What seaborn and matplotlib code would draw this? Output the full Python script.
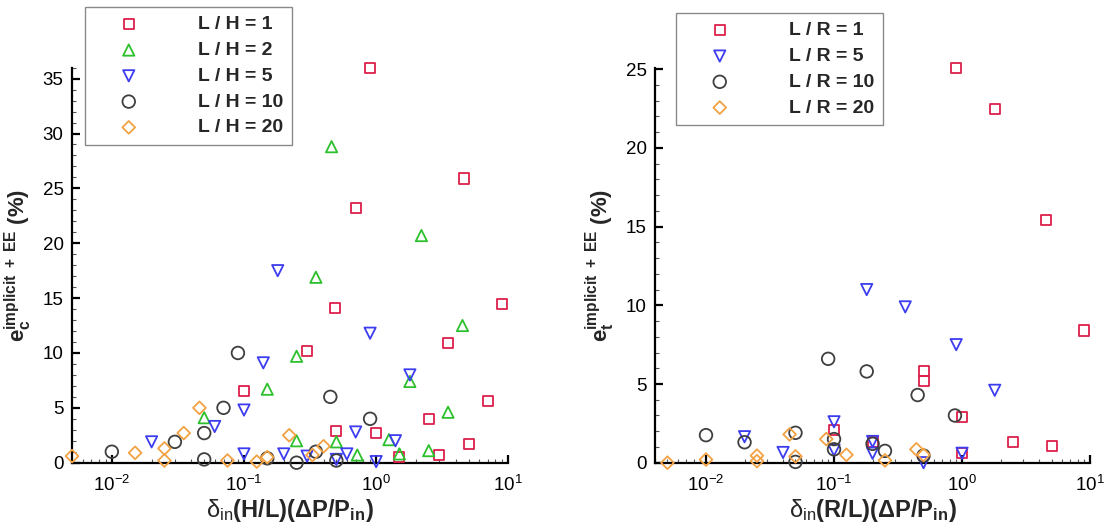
import numpy as np
import pandas as pd
import matplotlib
matplotlib.use("Agg")
import matplotlib.pyplot as plt
import seaborn as sns
from matplotlib.ticker import LogLocator, MultipleLocator

sns.set_theme(style="ticks")
plt.rcParams["font.family"] = ["Liberation Sans", "DejaVu Sans"]
plt.rcParams["mathtext.fontset"] = "custom"
plt.rcParams["mathtext.rm"] = "Liberation Sans"
plt.rcParams["mathtext.it"] = "Liberation Sans:italic"
plt.rcParams["mathtext.bf"] = "Liberation Sans:bold"

# ---- channel (L/H) data: x = delta_in (H/L)(dP/P_in), y = error (%) ----
lh1_x = [0.9, 4.6, 0.7, 0.49, 9.0, 3.5, 0.3, 0.1, 7.0, 2.5, 0.5, 1.0, 5.0, 3.0, 1.5]
lh1_y = [36.0, 25.9, 23.2, 14.1, 14.5, 10.9, 10.2, 6.5, 5.6, 4.0, 2.9, 2.7, 1.7, 0.7, 0.5]

lh2_x = [0.46, 2.2, 0.35, 4.5, 0.25, 0.15, 1.8, 3.5, 0.05, 0.25, 0.5, 1.25, 2.5, 0.72, 1.5]
lh2_y = [28.8, 20.7, 16.9, 12.5, 9.7, 6.7, 7.4, 4.6, 4.1, 2.0, 1.9, 2.1, 1.1, 0.7, 0.8]

lh5_x = [0.18, 0.9, 0.14, 1.8, 0.1, 0.06, 0.7, 0.02, 1.4, 0.2, 0.1, 0.3, 0.6, 0.5, 1.0]
lh5_y = [17.5, 11.8, 9.1, 8.0, 4.8, 3.3, 2.8, 1.9, 2.0, 0.8, 0.8, 0.6, 0.8, 0.3, 0.1]

lh10_x = [0.09, 0.45, 0.07, 0.9, 0.05, 0.03, 0.01, 0.05, 0.15, 0.25, 0.35, 0.5]
lh10_y = [10.0, 6.0, 5.0, 4.0, 2.7, 1.9, 1.0, 0.3, 0.4, 0.0, 1.0, 0.2]

lh20_x = [0.046, 0.035, 0.025, 0.015, 0.005, 0.025, 0.075, 0.125, 0.15, 0.22, 0.4, 0.33]
lh20_y = [5.0, 2.7, 1.3, 0.9, 0.6, 0.2, 0.2, 0.1, 0.5, 2.5, 1.5, 0.7]

# ---- tube (L/R) data: x = delta_in (R/L)(dP/P_in), y = error (%) ----
lr1_x = [0.9, 1.8, 4.5, 9.0, 0.5, 0.5, 1.0, 0.1, 0.2, 2.5, 5.0, 1.0]
lr1_y = [25.1, 22.5, 15.4, 8.4, 5.8, 5.2, 2.9, 2.05, 1.3, 1.3, 1.05, 0.6]

lr5_x = [0.18, 0.36, 0.9, 1.8, 0.1, 0.02, 0.04, 0.1, 0.2, 0.2, 0.5, 1.0]
lr5_y = [11.0, 9.9, 7.5, 4.6, 2.6, 1.65, 0.65, 0.8, 1.35, 0.6, 0.0, 0.6]

lr10_x = [0.09, 0.18, 0.45, 0.88, 0.01, 0.02, 0.05, 0.1, 0.1, 0.2, 0.25, 0.5, 0.05]
lr10_y = [6.6, 5.8, 4.3, 3.0, 1.75, 1.3, 1.9, 1.5, 0.85, 1.2, 0.75, 0.45, 0.05]

lr20_x = [0.005, 0.01, 0.025, 0.025, 0.045, 0.05, 0.087, 0.125, 0.25, 0.44, 0.5]
lr20_y = [0.0, 0.2, 0.45, 0.1, 1.8, 0.4, 1.5, 0.5, 0.15, 0.85, 0.5]

left_labels = ["L / H = 1", "L / H = 2", "L / H = 5", "L / H = 10", "L / H = 20"]
right_labels = ["L / R = 1", "L / R = 5", "L / R = 10", "L / R = 20"]

RED, GREEN, BLUE, GREY, ORANGE = "#dc1f4b", "#2cc02c", "#3c3cf0", "#3f3f3f", "#f2a243"
STYLE = {
    "s": dict(marker="s", s=52),
    "^": dict(marker="^", s=66),
    "v": dict(marker="v", s=66),
    "o": dict(marker="o", s=82),
    "D": dict(marker="D", s=42),
}

left_series = [
    (lh1_x, lh1_y, left_labels[0], RED, "s"),
    (lh2_x, lh2_y, left_labels[1], GREEN, "^"),
    (lh5_x, lh5_y, left_labels[2], BLUE, "v"),
    (lh10_x, lh10_y, left_labels[3], GREY, "o"),
    (lh20_x, lh20_y, left_labels[4], ORANGE, "D"),
]
right_series = [
    (lr1_x, lr1_y, right_labels[0], RED, "s"),
    (lr5_x, lr5_y, right_labels[1], BLUE, "v"),
    (lr10_x, lr10_y, right_labels[2], GREY, "o"),
    (lr20_x, lr20_y, right_labels[3], ORANGE, "D"),
]

fig = plt.figure(figsize=(11.05, 5.23), dpi=100)
ax1 = fig.add_axes([0.0652, 0.1153, 0.3948, 0.7553])
ax2 = fig.add_axes([0.5928, 0.1153, 0.3937, 0.7553])


def draw(ax, series):
    for xs, ys, lab, col, mk in series:
        df = pd.DataFrame({"x": xs, "y": ys})
        sns.scatterplot(data=df, x="x", y="y", ax=ax, label=lab,
                        facecolors="none", edgecolor=col, linewidth=1.3,
                        clip_on=False, zorder=3, **STYLE[mk])


def style_axes(ax, xlim, ylim):
    ax.set_xscale("log")
    ax.set_xlim(*xlim)
    ax.set_ylim(*ylim)
    ax.xaxis.set_major_locator(LogLocator(base=10, numticks=10))
    ax.xaxis.set_minor_locator(LogLocator(base=10, subs=np.arange(2, 10), numticks=20))
    ax.yaxis.set_major_locator(MultipleLocator(5))
    ax.yaxis.set_minor_locator(MultipleLocator(1))
    for side in ("top", "right"):
        ax.spines[side].set_visible(False)
    for side in ("left", "bottom"):
        ax.spines[side].set_linewidth(1.6)
        ax.spines[side].set_color("black")
    ax.tick_params(which="major", direction="in", length=6, width=1.6,
                   labelsize=13.5, colors="black", pad=6)
    ax.tick_params(axis="x", which="major", pad=9)
    ax.tick_params(which="minor", direction="in", length=3, width=0.8, colors="#555555")
    ax.set_facecolor("white")


draw(ax1, left_series)
draw(ax2, right_series)
style_axes(ax1, (0.005, 10), (0, 36))
style_axes(ax2, (0.004, 10), (0, 25.1))

ax1.set_xlabel(r"δ$_{\mathrm{in}}$$\mathbf{(H/L)(\Delta P/P_{in})}$", fontsize=17, labelpad=1)
ax2.set_xlabel(r"δ$_{\mathrm{in}}$$\mathbf{(R/L)(\Delta P/P_{in})}$", fontsize=17, labelpad=1)
ax1.set_ylabel(r"$\mathbf{e_c^{implicit\ +\ EE}}$ (%)", fontsize=16, fontweight="bold", labelpad=6)
ax2.set_ylabel(r"$\mathbf{e_t^{implicit\ +\ EE}}$ (%)", fontsize=16, fontweight="bold", labelpad=6)


def legend(ax, anchor):
    leg = ax.legend(loc="upper left", bbox_to_anchor=anchor, bbox_transform=fig.transFigure,
                    frameon=True, fancybox=False, framealpha=1, edgecolor="#8a8a8a",
                    prop={"weight": "bold", "size": 14}, handlelength=3.6,
                    handletextpad=1.75, labelspacing=0.42, borderpad=0.45,
                    borderaxespad=0, scatterpoints=1)
    leg.get_frame().set_linewidth(1.0)
    return leg


legend(ax1, (85 / 1105, 1 - 7 / 523))
legend(ax2, (676 / 1105, 1 - 13 / 523))

fig.savefig("out.png", dpi=100, facecolor="white")
